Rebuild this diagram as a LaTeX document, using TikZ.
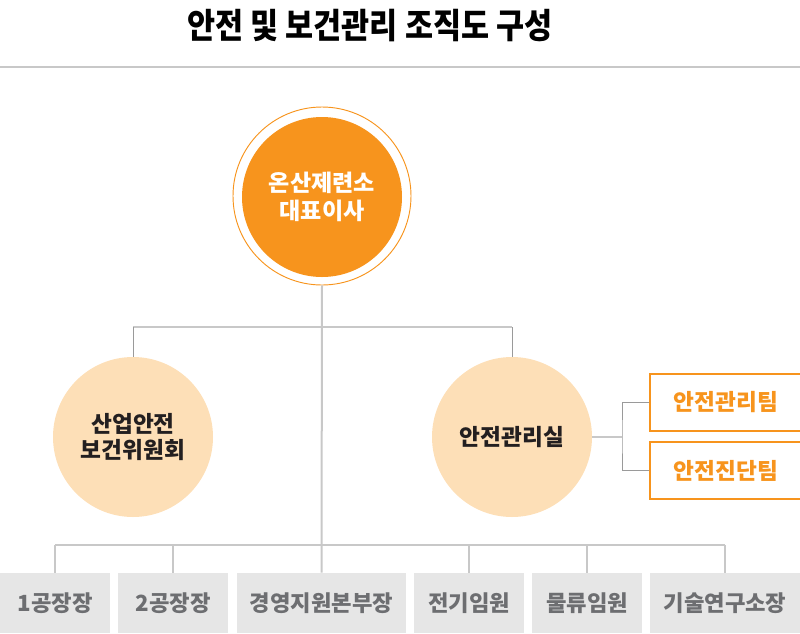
\documentclass[tikz,border=0pt]{standalone}
\usepackage{fontspec}
\setmainfont{Noto Sans CJK KR}
\newfontfamily\titlefont{Noto Sans CJK KR}[FakeStretch=0.88]

\definecolor{mainorange}{HTML}{F7941D}
\definecolor{peach}{HTML}{FDDFB7}
\definecolor{linegray}{HTML}{C8C8C8}
\definecolor{branchgray}{HTML}{9A9A9A}
\definecolor{boxgray}{HTML}{E6E6E6}
\definecolor{textgray}{HTML}{6D6E71}
\definecolor{darktext}{HTML}{231F20}

\begin{document}
\begin{tikzpicture}[x=0.75pt,y=-0.75pt]
	\tikzset{
		head/.style = {font=\titlefont\bfseries\fontsize{26}{30}\selectfont, text=black, inner sep=0pt},
		ceo/.style = {circle, fill=mainorange, minimum size=120pt, inner sep=0pt, align=center, text=white, font=\bfseries\fontsize{17.3}{20.5}\selectfont},
		ring/.style = {circle, draw=mainorange, line width=0.7pt, minimum size=133.5pt, inner sep=0pt},
		unit/.style = {circle, fill=peach, minimum size=120pt, inner sep=0pt, align=center, text=darktext, font=\bfseries\fontsize{17}{20}\selectfont},
		team/.style = {rectangle, draw=mainorange, line width=1.2pt, fill=white, minimum width=114pt, minimum height=43pt, text=mainorange, font=\bfseries\fontsize{17}{20}\selectfont},
		dept/.style = {rectangle, fill=boxgray, minimum height=45pt, inner sep=0pt, text=textgray, font=\bfseries\fontsize{16.7}{20}\selectfont},
		mainline/.style = {draw=linegray, line width=1.5pt},
		branch/.style = {draw=branchgray, line width=0.75pt}
	}

	\useasboundingbox (0,0) rectangle (800,633);
	\clip (0,0) rectangle (800,633);

	\node[head] (title) at (370,26) {안전 및 보건관리 조직도 구성};
	\draw[draw=linegray, line width=1.5pt] (0,67) -- (800,67);

	\node[ring] (ceoring) at (322,196) {};
	\node[ceo] (ceo) at (322,197) {온산제련소\\대표이사};

	\node[unit] (committee) at (133,437) {산업안전\\보건위원회};
	\node[unit] (office) at (512,437) {안전관리실};

	\node[team] (teamA) at (726,402.5) {안전관리팀};
	\node[team] (teamB) at (726,470.5) {안전진단팀};

	\node[dept, minimum width=82.5pt] (plant1) at (55,603) {1공장장};
	\node[dept, minimum width=82.5pt] (plant2) at (173,603) {2공장장};
	\node[dept, minimum width=126.75pt] (support) at (321.5,603) {경영지원본부장};
	\node[dept, minimum width=82.5pt] (elec) at (469,603) {전기임원};
	\node[dept, minimum width=82.5pt] (logi) at (587,603) {물류임원};
	\node[dept, minimum width=112.5pt] (lab) at (725,603) {기술연구소장};

	\coordinate (upper) at (322,327);
	\coordinate (lower) at (322,545);
	\coordinate (fork) at (622,437);

	\draw[mainline] (ceoring.south) -- (support.north);
	\draw[mainline] (committee.north |- upper) -- (office.north |- upper);
	\draw[branch] (committee.north |- upper) -- (committee.north);
	\draw[branch] (office.north |- upper) -- (office.north);

	\draw[mainline] (office.east) -- (fork);
	\draw[branch] (teamA.west) -| (fork) |- (teamB.west);

	\draw[mainline] (plant1.north |- lower) -- (lab.north |- lower);
	\foreach \d in {plant1,plant2,elec,logi,lab}
		\draw[mainline] (\d.north |- lower) -- (\d.north);

\end{tikzpicture}
\end{document}
